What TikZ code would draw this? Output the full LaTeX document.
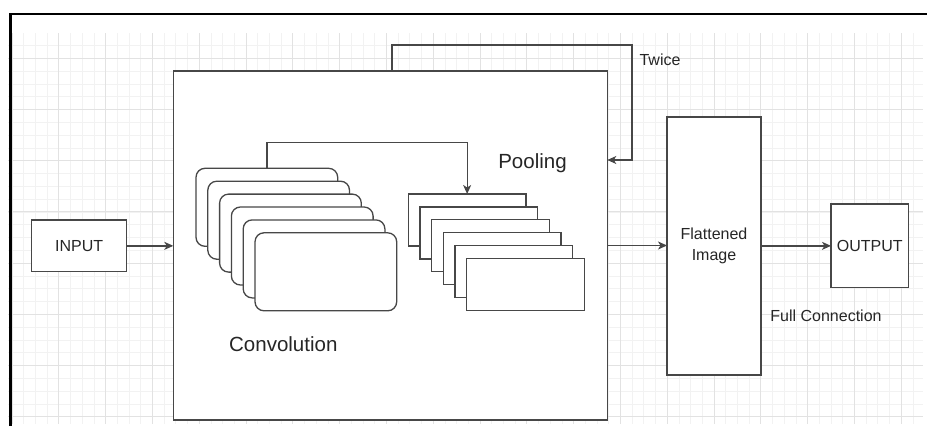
\documentclass[tikz,border=0pt]{standalone}
\usepackage{fontspec}
\setmainfont{Liberation Sans}
\usetikzlibrary{arrows.meta}
\definecolor{gridminor}{HTML}{F2F2F2}
\definecolor{gridmajor}{HTML}{E2E2E2}
\definecolor{edge}{HTML}{474747}
\begin{document}
\begin{tikzpicture}[x=1pt,y=-1pt,
  box/.style={draw=edge,line width=1.3pt,fill=white,inner sep=0pt,outer sep=0pt,anchor=north west,
    font=\fontsize{16}{20.3}\selectfont,text=black!85,align=center},
  convbox/.style={box,rounded corners=9pt,minimum width=141.7pt,minimum height=78pt},
  poolbox/.style={box,minimum width=117.7pt,minimum height=52pt},
  arr/.style={draw=edge,line width=1.3pt,-{Stealth[length=9pt,width=8pt,inset=2.5pt]}},
  lbl/.style={font=\fontsize{16}{20}\selectfont,text=black!85,inner sep=0pt},
  biglbl/.style={font=\fontsize{20.5}{24}\selectfont,text=black!85,inner sep=0pt}]
\fill[white] (0,0) rectangle (927,426);
\useasboundingbox (0,0) rectangle (927,426);
% grid
\foreach \k in {0,...,77} {\draw[gridminor,line width=0.8pt] ({12+11.7*\k},33) -- ({12+11.7*\k},424);}
\foreach \k in {-1,...,28} {\draw[gridminor,line width=0.8pt] (8,{58.3+12.8*\k}) -- (923,{58.3+12.8*\k});}
\foreach \k in {0,...,19} {\draw[gridmajor,line width=0.9pt] ({12+46.8*\k},33) -- ({12+46.8*\k},424);}
\foreach \k in {0,...,7} {\draw[gridmajor,line width=0.9pt] (8,{58.3+51.2*\k}) -- (923,{58.3+51.2*\k});}
% frame
\draw[line width=2.2pt,black] (10.5,426) -- (10.5,14) -- (927,14);
% boxes
\node[box,minimum width=95pt,minimum height=51.7pt] (input) at (31.7,220) {INPUT};
\node[box,minimum width=434pt,minimum height=349pt] (big) at (173.3,71) {};
\node[box,minimum width=94pt,minimum height=258pt] (flat) at (667,117) {Flattened\\Image};
\node[box,minimum width=77.7pt,minimum height=83.7pt] (output) at (831,204) {OUTPUT};
% convolution stack
\foreach \i in {1,...,6} {
  \node[convbox] (conv\i) at ({196+11.8*(\i-1)},{168.3+12.9*(\i-1)}) {};
}
% pooling stack
\foreach \i in {1,...,6} {
  \node[poolbox] (pool\i) at ({408.3+11.7*(\i-1)},{194+12.9*(\i-1)}) {};
}
% labels
\node[biglbl] (convlbl) at (283.3,344) {Convolution};
\node[biglbl] (poollbl) at (532.5,163) {Pooling};
\node[lbl] (twice) at (660,60) {Twice};
\node[lbl] (fullc) at (826,316) {Full Connection};
% connectors
\coordinate (ctop) at (0,142.7);
\coordinate (lpA) at (392,45);
\coordinate (lpB) at (632,160);
\draw[arr] (input.east) -- (input.east -| big.west);
\draw[arr] (big.east) -- (big.east -| flat.west);
\draw[arr] (flat.east |- output.west) -- (output.west);
\draw[arr] (conv1.north) -- (conv1.north |- ctop) -| (pool1.north);
\draw[arr] (lpA |- big.north) -- (lpA) -| (lpB) -- (lpB -| big.east);
\end{tikzpicture}
\end{document}
